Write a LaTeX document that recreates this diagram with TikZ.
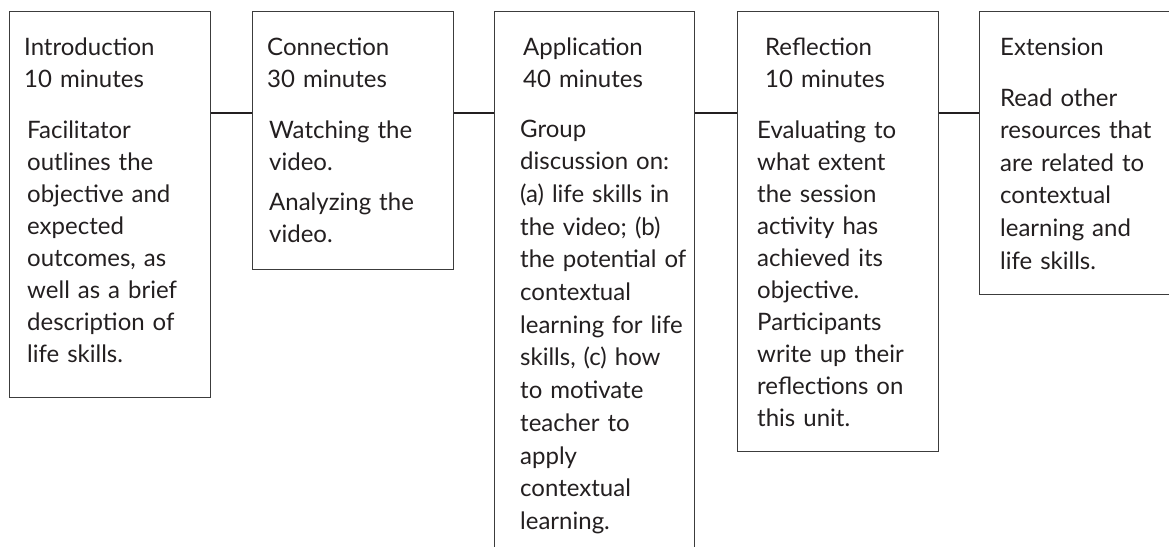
\documentclass[tikz,border=0pt]{standalone}
\usepackage{fontspec}
\setmainfont{Lato}[WordSpace=1.7]
\definecolor{ink}{HTML}{231F20}
\definecolor{boxline}{HTML}{3C3C3C}
\begin{document}
\begin{tikzpicture}[x=1pt,y=-1pt,
  stage/.style={draw=boxline, line width=1.3pt, rectangle, inner sep=0pt,
    anchor=north west, minimum width=201pt},
  txt/.style={anchor=base west, inner sep=0pt, align=left, text width=190pt,
    text=ink, font=\fontsize{24}{32}\selectfont},
  link/.style={draw=ink, line width=2pt}
]
\useasboundingbox (0,0) rectangle (1169,546);

% stage boxes
\node[stage, minimum height=386pt] (intro) at (9,11) {};
\node[stage, minimum height=258pt] (conn)  at (252,11) {};
\node[stage, minimum height=560pt, minimum width=200pt] (appl) at (494,11) {};
\node[stage, minimum height=440pt] (refl)  at (737,11) {};
\node[stage, minimum height=283pt, minimum width=230pt] (ext) at (979,11) {};

% connectors between stages
\draw[link] (intro.east |- 0,113) -- (conn.west |- 0,113);
\draw[link] (conn.east |- 0,113) -- (appl.west |- 0,113);
\draw[link] (appl.east |- 0,113) -- (refl.west |- 0,113);
\draw[link] (refl.east |- 0,113) -- (ext.west |- 0,113);

% Introduction
\node[txt] (introhead) at (24,55) {Introduction\\10 minutes};
\node[txt] (introbody) at (27,138) {Facilitator\\outlines the\\objective and\\expected\\outcomes, as\\well as a brief\\description of\\life skills.};

% Connection
\node[txt] (connhead) at (267,55) {Connection\\30 minutes};
\node[txt] (connbody) at (269,138) {Watching the\\video.\\[8pt]Analyzing the\\video.};

% Application
\node[txt] (applhead) at (523,55) {Application\\40 minutes};
\node[txt, font=\fontsize{24}{32.7}\selectfont] (applbody) at (520,137) {Group\\discussion on:\\(a) life skills in\\the video; (b)\\the potential of\\contextual\\learning for life\\skills, (c) how\\to motivate\\teacher to\\apply\\contextual\\learning.};

% Reflection
\node[txt] (reflhead) at (765,55) {Reflection\\10 minutes};
\node[txt] (reflbody) at (757,138) {Evaluating to\\what extent\\the session\\activity has\\achieved its\\objective.\\Participants\\write up their\\reflections on\\this unit.};

% Extension
\node[txt] (exthead) at (1000,55) {Extension};
\node[txt, font=\fontsize{24}{32.6}\selectfont] (extbody) at (1000,106) {Read other\\resources that\\are related to\\contextual\\learning and\\life skills.};
\end{tikzpicture}
\end{document}
